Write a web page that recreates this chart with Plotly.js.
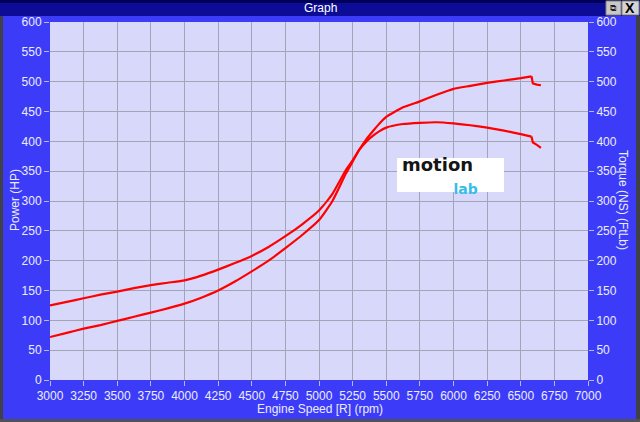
<!DOCTYPE html>
<html>
<head>
<meta charset="utf-8">
<script src="https://cdn.plot.ly/plotly-3.0.1.min.js"></script>
<style>
html,body{margin:0;padding:0;background:#3c3cf8;}
#chart{width:640px;height:422px;}
</style>
</head>
<body>
<div id="chart"></div>
<script>
// Data
const rpm = [3000,3125,3250,3375,3500,3625,3750,3875,4000,4125,4250,4375,4500,4625,4750,4875,5000,5100,5200,5250,5300,5350,5400,5450,5500,5625,5750,5875,6000,6125,6250,6375,6500,6580,6590,6620,6650];
const powerHP = [72,79,86,92,99,106,113,120,128,138,150,165,182,200,221,243,268,300,346,366,386,403,417,430,441,457,467,478,488,493,498,502,506,509,497,495,494];
const torqueFtLb = [125,131,137,143,148,154,159,163,167,175,185,196,208,223,241,261,284,312,352,368,386,399,409,417,423,429,431,432,430,427,423,418,412,408,398,394,389];
const yTicks = [0,50,100,150,200,250,300,350,400,450,500,550,600];
const xTicks = [3000,3250,3500,3750,4000,4250,4500,4750,5000,5250,5500,5750,6000,6250,6500,6750,7000];

const W = 640, H = 422, ML = 50, MR = 52, MT = 22, MB = 42;
const PW = W - ML - MR, PH = H - MT - MB;
const px = x => (x - ML) / PW;
const py = y => (H - MB - y) / PH;

const font = {family: 'Liberation Sans, Arial, sans-serif', size: 12, color: '#ececff'};

// smooth main run up to the peak, then the short stepped tail
const cut = rpm.indexOf(6580);
const mk = (xs, ys, ax, shape) => ({x: xs, y: ys, type: 'scatter', mode: 'lines',
  line: {color: '#ff0000', width: 2.2, shape: shape, smoothing: 0.5}, yaxis: ax, hoverinfo: 'skip'});
const traces = [
  mk(rpm.slice(0, cut + 1), powerHP.slice(0, cut + 1), 'y', 'spline'),
  mk(rpm.slice(cut), powerHP.slice(cut), 'y', 'linear'),
  mk(rpm.slice(0, cut + 1), torqueFtLb.slice(0, cut + 1), 'y2', 'spline'),
  mk(rpm.slice(cut), torqueFtLb.slice(cut), 'y2', 'linear')
];

const axisCommon = {
  tickfont: font, ticks: 'outside', ticklen: 5, tickcolor: '#b8b8d8',
  showgrid: true, gridcolor: '#a4a4b8', gridwidth: 1, zeroline: false,
  showline: false, fixedrange: true
};

const NB = '\u00A0';
const logoText = '<b>motion</b><br>' + NB.repeat(9) +
  '<span style="font-size:14px;color:#38bde8"><b>lab</b></span>';

const layout = {
  width: W, height: H,
  margin: {l: ML, r: MR, t: MT, b: MB},
  paper_bgcolor: '#3c3cf8',
  plot_bgcolor: '#d8d8fa',
  showlegend: false,
  font: font,
  xaxis: Object.assign({}, axisCommon, {
    range: [3000, 7000], tickvals: xTicks, ticktext: xTicks.map(String)
  }),
  yaxis: Object.assign({}, axisCommon, {
    range: [0, 600], tickvals: yTicks, ticktext: yTicks.map(String)
  }),
  yaxis2: Object.assign({}, axisCommon, {
    range: [0, 600], tickvals: yTicks, ticktext: yTicks.map(String),
    overlaying: 'y', side: 'right', showgrid: false
  }),
  shapes: [
    // window title bar
    {type: 'rect', xref: 'paper', yref: 'paper', x0: px(0), x1: px(640), y0: py(16), y1: py(0),
     fillcolor: '#0c0c96', line: {width: 0}, layer: 'below'},
    {type: 'rect', xref: 'paper', yref: 'paper', x0: px(0), x1: px(640), y0: py(3), y1: py(0),
     fillcolor: '#00005a', line: {width: 0}, layer: 'below'},
    // window buttons
    {type: 'rect', xref: 'paper', yref: 'paper', x0: px(606), x1: px(621), y0: py(15), y1: py(1),
     fillcolor: '#c8c8c8', line: {color: '#808080', width: 1}},
    {type: 'rect', xref: 'paper', yref: 'paper', x0: px(622), x1: px(639), y0: py(15), y1: py(1),
     fillcolor: '#d4d4d4', line: {color: '#808080', width: 1}},
    // window borders
    {type: 'rect', xref: 'paper', yref: 'paper', x0: px(0), x1: px(3), y0: py(422), y1: py(16),
     fillcolor: '#404048', line: {width: 0}, layer: 'below'},
    {type: 'rect', xref: 'paper', yref: 'paper', x0: px(636), x1: px(640), y0: py(422), y1: py(16),
     fillcolor: '#404048', line: {width: 0}, layer: 'below'},
    {type: 'rect', xref: 'paper', yref: 'paper', x0: px(0), x1: px(640), y0: py(422), y1: py(419),
     fillcolor: '#505058', line: {width: 0}, layer: 'below'},
    // logo box
    {type: 'rect', xref: 'paper', yref: 'paper', x0: px(397), x1: px(504), y0: py(192), y1: py(158),
     fillcolor: '#ffffff', line: {width: 0}}
  ],
  annotations: [
    {xref: 'paper', yref: 'paper', x: px(320), y: py(8), text: 'Graph', showarrow: false,
     font: {family: 'Liberation Sans, Arial, sans-serif', size: 12, color: '#ffffff'}, xanchor: 'center', yanchor: 'middle'},
    {xref: 'paper', yref: 'paper', x: px(613.5), y: py(8), text: '⧉', showarrow: false,
     font: {family: 'DejaVu Sans', size: 9, color: '#202020'}, xanchor: 'center', yanchor: 'middle'},
    {xref: 'paper', yref: 'paper', x: px(630.5), y: py(8), text: '<b>X</b>', showarrow: false,
     font: {family: 'Liberation Sans, Arial, sans-serif', size: 14, color: '#000000'}, xanchor: 'center', yanchor: 'middle'},
    {xref: 'paper', yref: 'paper', x: px(15), y: py(200), text: 'Power (HP)', showarrow: false, textangle: -90,
     font: font, xanchor: 'center', yanchor: 'middle'},
    {xref: 'paper', yref: 'paper', x: px(623), y: py(200), text: 'Torque (NS) (FtLb)', showarrow: false, textangle: 90,
     font: font, xanchor: 'center', yanchor: 'middle'},
    {xref: 'paper', yref: 'paper', x: px(320), y: py(409), text: 'Engine Speed [R] (rpm)', showarrow: false,
     font: font, xanchor: 'center', yanchor: 'middle'},
    // logo text (one block: "motion" with "lab" below and to the right)
    {xref: 'paper', yref: 'paper', x: px(401), y: py(176), borderpad: 0,
     text: logoText, showarrow: false, align: 'left',
     font: {family: 'DejaVu Sans, sans-serif', size: 18, color: '#151515'}, xanchor: 'left', yanchor: 'middle'}
  ]
};

Plotly.newPlot('chart', traces, layout, {displayModeBar: false, staticPlot: true});
</script>
</body>
</html>
